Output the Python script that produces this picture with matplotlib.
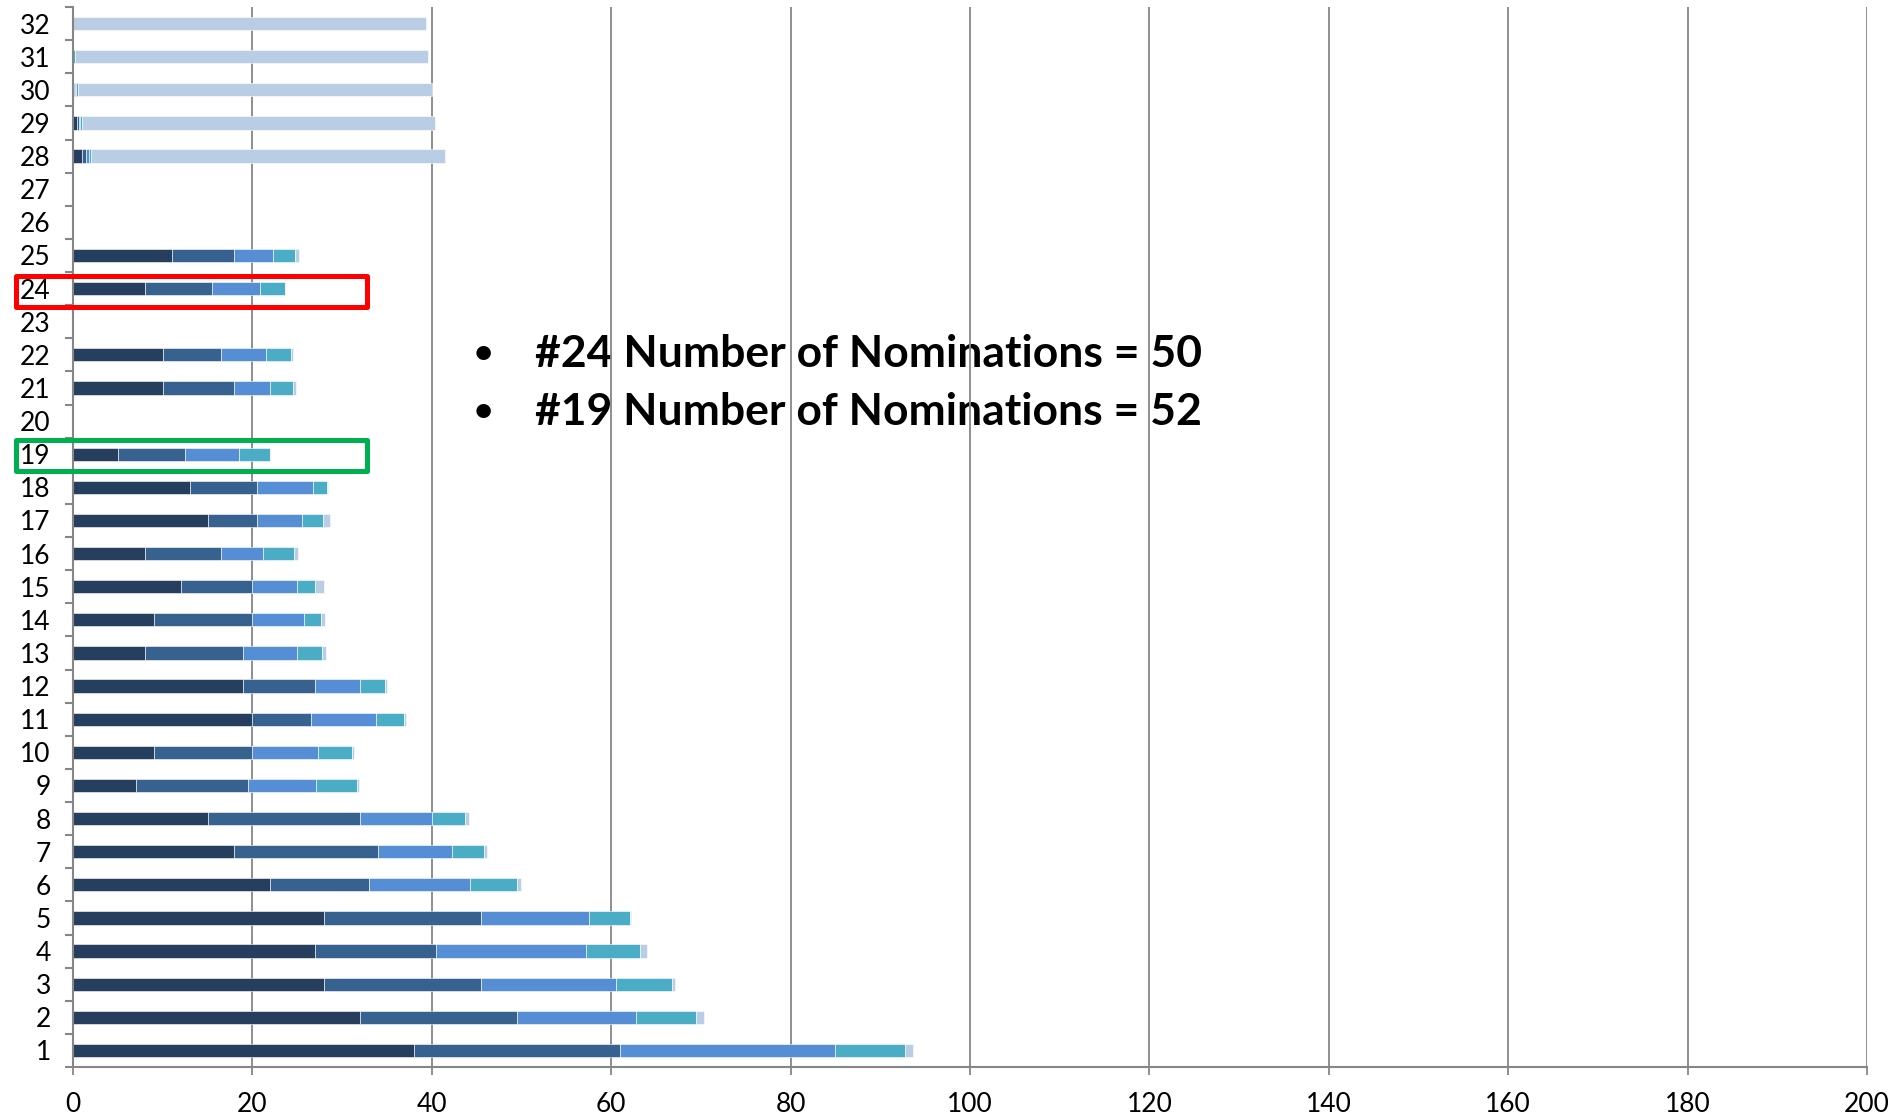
import matplotlib
matplotlib.use('Agg')
import matplotlib.pyplot as plt
from matplotlib.patches import Rectangle
from matplotlib.ticker import FixedLocator
import numpy as np

plt.rcParams['font.family'] = ['Lato', 'DejaVu Sans']

categories = list(range(1, 33))
# five stacked series (bars 1..32)
s1 = [38, 32, 28, 27, 28, 22, 18, 15, 7, 9, 20, 19, 8, 9, 12, 8,
      15, 13, 5, 0, 10, 10, 0, 8, 11, 0, 0, 1, 0.4, 0.1, 0, 0]
s2 = [23, 17.5, 17.5, 13.5, 17.5, 11, 16, 17, 12.5, 11, 6.5, 8, 11, 11, 8, 8.5,
      5.5, 7.5, 7.5, 0, 8, 6.5, 0, 7.5, 7, 0, 0, 0.5, 0.3, 0.1, 0, 0]
s3 = [24, 13.3, 15, 16.7, 12, 11.3, 8.3, 8, 7.6, 7.3, 7.3, 5, 6, 5.7, 5, 4.7,
      5, 6.3, 6, 0, 4, 5, 0, 5.3, 4.3, 0, 0, 0.3, 0.1, 0.1, 0, 0]
s4 = [7.8, 6.7, 6.3, 6, 4.6, 5.2, 3.5, 3.7, 4.6, 3.8, 3.1, 2.8, 2.8, 2, 2, 3.4,
      2.4, 1.5, 3.5, 0, 2.5, 2.8, 0, 2.8, 2.5, 0, 0, 0.25, 0.2, 0.3, 0.2, 0]
s5 = [0.9, 0.8, 0.3, 0.8, 0.1, 0.4, 0.4, 0.4, 0.2, 0.2, 0.2, 0.2, 0.4, 0.4, 1, 0.5,
      0.7, 0.1, 0, 0, 0.4, 0.2, 0, 0, 0.4, 0, 0, 39.4, 39.4, 39.4, 39.4, 39.3]
colors = ['#263F5F', '#37618F', '#558ED5', '#4BACC6', '#B9CDE5']

notes = ['#24 Number of Nominations = 50', '#19 Number of Nominations = 52']
x_ticks = list(range(0, 201, 20))

fig = plt.figure(figsize=(18.95, 11.16), dpi=100)
ax = fig.add_axes([73 / 1895, 1 - 1067 / 1116, (1867 - 73) / 1895, (1067 - 7) / 1116])

left = np.zeros(len(categories))
for vals, c in zip([s1, s2, s3, s4, s5], colors):
    ax.barh(categories, vals, left=left, height=0.4, color=c,
            edgecolor='white', linewidth=0.4, zorder=2)
    left += np.array(vals)

ax.set_xlim(0, 200)
ax.set_ylim(0.5, 32.5)
ax.set_xticks(x_ticks)
ax.set_yticks(categories)
ax.yaxis.set_minor_locator(FixedLocator(np.arange(0.5, 33, 1)))

grey = '#868686'
ax.set_axisbelow(True)
ax.grid(axis='x', color=grey, linewidth=1.3)
for side in ['top', 'right']:
    ax.spines[side].set_visible(False)
for side in ['left', 'bottom']:
    ax.spines[side].set_color(grey)
    ax.spines[side].set_linewidth(1.5)

ax.tick_params(axis='y', which='major', length=0, pad=16, labelsize=19)
ax.tick_params(axis='y', which='minor', length=6, width=1.5, color=grey)
ax.tick_params(axis='x', which='major', length=6, width=1.3, color=grey, pad=12, labelsize=19)

# highlight boxes
ax.add_patch(Rectangle((-6.35, 23.44), 39.15, 0.94, fill=False, edgecolor='#FF0000',
                       linewidth=3.6, clip_on=False, zorder=5, joinstyle='round'))
ax.add_patch(Rectangle((-6.35, 18.49), 39.15, 0.94, fill=False, edgecolor='#00B050',
                       linewidth=3.6, clip_on=False, zorder=5, joinstyle='round'))

# bullet notes, sitting under the grid lines like the original
for i, t in enumerate(notes):
    y = 1 - (354 + 58 * i) / 1116
    ax.text(483 / 1895, y, '•', transform=fig.transFigure, fontsize=24,
            fontweight='bold', ha='center', va='center', zorder=0.3)
    ax.text(535 / 1895, y, t, transform=fig.transFigure, fontsize=32,
            fontweight='bold', ha='left', va='center', zorder=0.3)

fig.savefig('out.png', dpi=100)
